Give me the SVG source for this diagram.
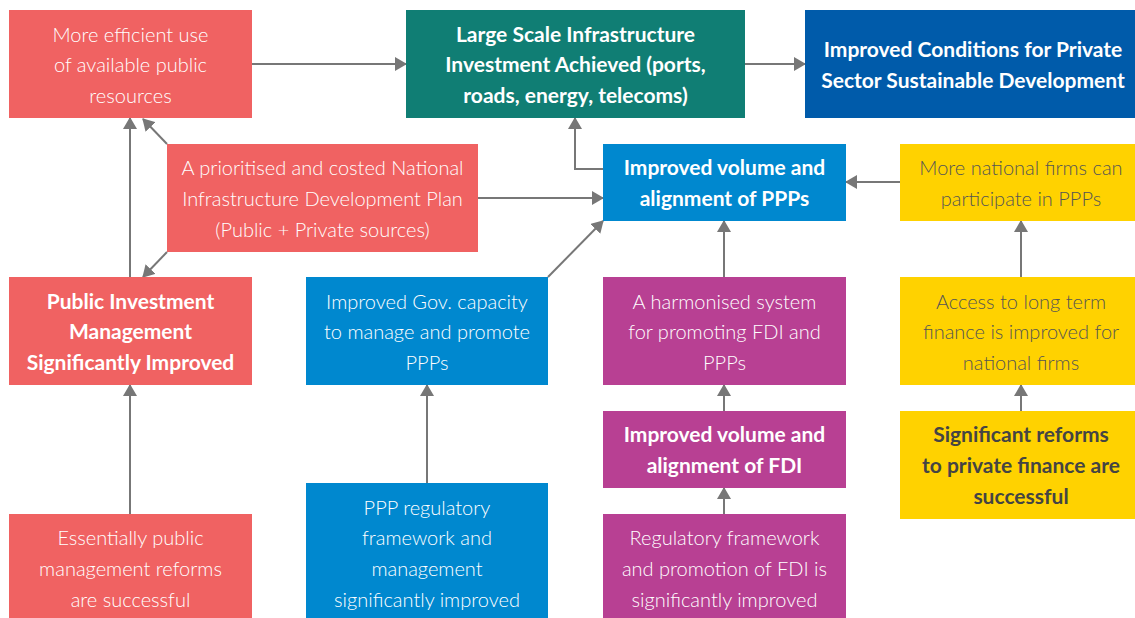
<svg xmlns="http://www.w3.org/2000/svg" width="1135" height="618" viewBox="0 0 1135 618">
<defs>
<marker id="ah" markerWidth="12" markerHeight="14" refX="11" refY="7" orient="auto" markerUnits="userSpaceOnUse" viewBox="0 0 12 14">
<path d="M0,0 L12,7 L0,14 Z" fill="#777"/>
</marker>
</defs>
<style>
.t{font-family:Lato,"Open Sans","Liberation Sans",sans-serif;font-size:20px;text-anchor:middle;fill:#fff;font-weight:300}
.b{font-weight:700;font-size:21px}
.d{fill:#555}
.db{fill:#444}
.red{fill:#F06262}.teal{fill:#107E74}.navy{fill:#005BAA}.blue{fill:#0088CF}.mag{fill:#B84093}.yel{fill:#FFD200}
.c{stroke:#777;stroke-width:2;fill:none;marker-end:url(#ah)}
</style>
<rect width="1135" height="618" fill="#fff"/>
<g id="connectors">
<path class="c" d="M252,64 H406"/>
<path class="c" d="M745,64 H805"/>
<path class="c" d="M130,277 V118"/>
<path class="c" d="M167,144 L143,119"/>
<path class="c" d="M167,252 L143,277"/>
<path class="c" d="M478,198 H603"/>
<path class="c" d="M548,277 L603,221"/>
<path class="c" d="M603,169 H575 V118"/>
<path class="c" d="M900,182 H846"/>
<path class="c" d="M724,277 V221"/>
<path class="c" d="M1021,277 V221"/>
<path class="c" d="M427,483 V385"/>
<path class="c" d="M130,514 V385"/>
<path class="c" d="M724,411 V385"/>
<path class="c" d="M724,514 V488"/>
<path class="c" d="M1021,411 V385"/>
</g>
<g id="n-efficient"><rect class="red" x="9" y="10" width="243" height="108"/>
<text class="t" x="130.5" y="42">More efficient use</text><text class="t" x="130.5" y="72">of available public</text><text class="t" x="130.5" y="103">resources</text></g>
<g id="n-large"><rect class="teal" x="406" y="10" width="339" height="108"/>
<text class="t b" x="575.5" y="42">Large Scale Infrastructure</text><text class="t b" x="575.5" y="72">Investment Achieved (ports,</text><text class="t b" x="575.5" y="103">roads, energy, telecoms)</text></g>
<g id="n-conditions"><rect class="navy" x="805" y="10" width="330" height="108"/>
<text class="t b" x="973" y="57">Improved Conditions for Private</text><text class="t b" x="973" y="88">Sector Sustainable Development</text></g>
<g id="n-plan"><rect class="red" x="167" y="144" width="311" height="108"/>
<text class="t" x="322.5" y="175">A prioritised and costed National</text><text class="t" x="322.5" y="206">Infrastructure Development Plan</text><text class="t" x="322.5" y="237">(Public + Private sources)</text></g>
<g id="n-ppps"><rect class="blue" x="603" y="144" width="243" height="77"/>
<text class="t b" x="724.5" y="175">Improved volume and</text><text class="t b" x="724.5" y="206">alignment of PPPs</text></g>
<g id="n-firms"><rect class="yel" x="900" y="144" width="235" height="77"/>
<text class="t d" x="1021" y="175">More national firms can</text><text class="t d" x="1021" y="206">participate in PPPs</text></g>
<g id="n-pim"><rect class="red" x="9" y="277" width="243" height="108"/>
<text class="t b" x="130.5" y="309">Public Investment</text><text class="t b" x="130.5" y="339">Management</text><text class="t b" x="130.5" y="370">Significantly Improved</text></g>
<g id="n-gov"><rect class="blue" x="306" y="277" width="242" height="108"/>
<text class="t" x="427" y="309">Improved Gov. capacity</text><text class="t" x="427" y="339">to manage and promote</text><text class="t" x="427" y="370">PPPs</text></g>
<g id="n-harm"><rect class="mag" x="603" y="277" width="243" height="108"/>
<text class="t" x="724.5" y="309">A harmonised system</text><text class="t" x="724.5" y="339">for promoting FDI and</text><text class="t" x="724.5" y="370">PPPs</text></g>
<g id="n-access"><rect class="yel" x="900" y="277" width="235" height="108"/>
<text class="t d" x="1021" y="309">Access to long term</text><text class="t d" x="1021" y="339">finance is improved for</text><text class="t d" x="1021" y="370">national firms</text></g>
<g id="n-fdi"><rect class="mag" x="603" y="411" width="243" height="77"/>
<text class="t b" x="724.5" y="442">Improved volume and</text><text class="t b" x="724.5" y="473">alignment of FDI</text></g>
<g id="n-reforms"><rect class="yel" x="900" y="411" width="235" height="108"/>
<text class="t b db" x="1021" y="442">Significant reforms</text><text class="t b db" x="1021" y="473">to private finance are</text><text class="t b db" x="1021" y="504">successful</text></g>
<g id="n-essential"><rect class="red" x="9" y="514" width="243" height="104"/>
<text class="t" x="130.5" y="545">Essentially public</text><text class="t" x="130.5" y="576">management reforms</text><text class="t" x="130.5" y="607">are successful</text></g>
<g id="n-pppreg"><rect class="blue" x="306" y="483" width="242" height="135"/>
<text class="t" x="427" y="515">PPP regulatory</text><text class="t" x="427" y="545">framework and</text><text class="t" x="427" y="576">management</text><text class="t" x="427" y="607">significantly improved</text></g>
<g id="n-regfdi"><rect class="mag" x="603" y="514" width="243" height="104"/>
<text class="t" x="724.5" y="545">Regulatory framework</text><text class="t" x="724.5" y="576">and promotion of FDI is</text><text class="t" x="724.5" y="607">significantly improved</text></g>
</svg>
